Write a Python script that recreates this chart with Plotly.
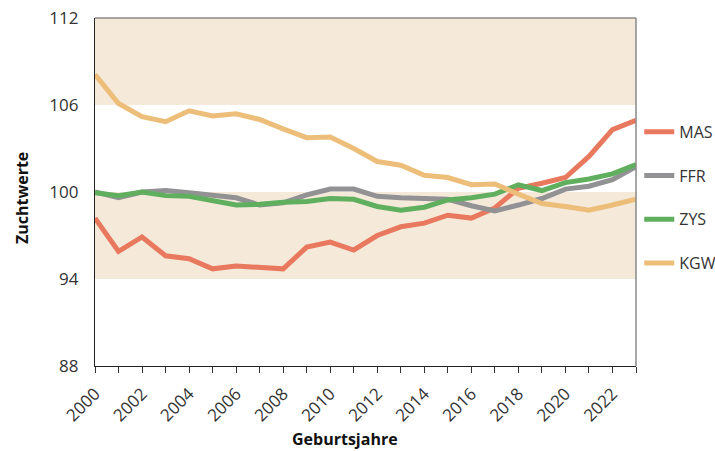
import plotly.graph_objects as go

years = list(range(2000, 2024))
MAS = [98.2, 95.9, 96.9, 95.6, 95.4, 94.7, 94.9, 94.8, 94.7, 96.2, 96.55, 96.0,
       97.0, 97.6, 97.85, 98.4, 98.2, 98.9, 100.25, 100.6, 101.0, 102.45, 104.3, 104.95]
FFR = [100.0, 99.6, 100.0, 100.1, 99.95, 99.8, 99.6, 99.1, 99.25, 99.8, 100.2, 100.2,
       99.7, 99.6, 99.55, 99.5, 99.05, 98.7, 99.1, 99.55, 100.2, 100.4, 100.85, 101.75]
ZYS = [99.95, 99.75, 100.0, 99.75, 99.7, 99.4, 99.1, 99.15, 99.3, 99.35, 99.55, 99.5,
       99.0, 98.75, 98.95, 99.45, 99.6, 99.85, 100.5, 100.1, 100.65, 100.9, 101.25, 101.9]
KGW = [108.1, 106.1, 105.2, 104.85, 105.6, 105.25, 105.4, 105.0, 104.35, 103.75, 103.8, 103.0,
       102.1, 101.85, 101.15, 101.0, 100.5, 100.55, 99.85, 99.2, 99.0, 98.75, 99.1, 99.5]

series_names = ["MAS", "FFR", "ZYS", "KGW"]
series_values = [MAS, FFR, ZYS, KGW]
series_colors = ["#E8795E", "#929295", "#5FAF5F", "#ECBE79"]

bands = [(94, 100), (106, 112)]
y_ticks = [88, 94, 100, 106, 112]

fig = go.Figure()
for name, vals, col in zip(series_names, series_values, series_colors):
    fig.add_trace(go.Scatter(x=years, y=vals, mode="lines", name=name,
                             legendgroup=name,
                             line=dict(color=col, width=5)))

for lo, hi in bands:
    fig.add_shape(type="rect", xref="paper", yref="y", x0=0, x1=1, y0=lo, y1=hi,
                  fillcolor="#F5E9DA", line_width=0, layer="below")

# top and right border
fig.add_shape(type="line", xref="paper", yref="paper", x0=0, x1=1, y0=1, y1=1,
              line=dict(color="#555", width=1.2))
fig.add_shape(type="line", xref="paper", yref="paper", x0=1, x1=1, y0=0, y1=1,
              line=dict(color="#888", width=1.5))

title_font = dict(size=16, color="#111", family="Open Sans")
fig.add_annotation(text="<b>Geburtsjahre</b>", xref="paper", yref="paper",
                   x=0.462, y=-0.211, xanchor="center", yanchor="middle",
                   showarrow=False, font=title_font)
fig.add_annotation(text="<b>Zuchtwerte</b>", xref="paper", yref="paper",
                   x=-0.136, y=0.484, xanchor="center", yanchor="middle",
                   textangle=-90, showarrow=False, font=title_font)

fig.update_layout(
    width=715, height=451,
    margin=dict(l=95, r=79, t=18, b=85, autoexpand=False),
    paper_bgcolor="white", plot_bgcolor="white",
    font=dict(family="Open Sans", color="#333"),
    showlegend=True,
    legend=dict(x=1.006, y=0.722, xanchor="left", yanchor="top",
                font=dict(size=16, color="#333"),
                tracegroupgap=20, itemwidth=30,
                bgcolor="rgba(0,0,0,0)"),
    xaxis=dict(range=[2000, 2023], dtick=2, tick0=2000, automargin=False,
               showline=True, linecolor="#222", linewidth=1.2,
               ticks="outside", ticklen=6, tickcolor="#333",
               minor=dict(dtick=1, ticks="outside", ticklen=6, tickcolor="#333"),
               tickangle=-45, ticklabelstandoff=4, tickfont=dict(size=17, color="#333"),
               showgrid=False, zeroline=False),
    yaxis=dict(range=[88, 112], tickvals=y_ticks, automargin=False,
               showline=True, linecolor="#222", linewidth=1.2,
               ticks="", ticklabelstandoff=12, tickfont=dict(size=17, color="#333"),
               showgrid=False, zeroline=False),
)

fig.write_html("out.html", config={"displayModeBar": False},
               post_script="document.body.style.margin='0';")
